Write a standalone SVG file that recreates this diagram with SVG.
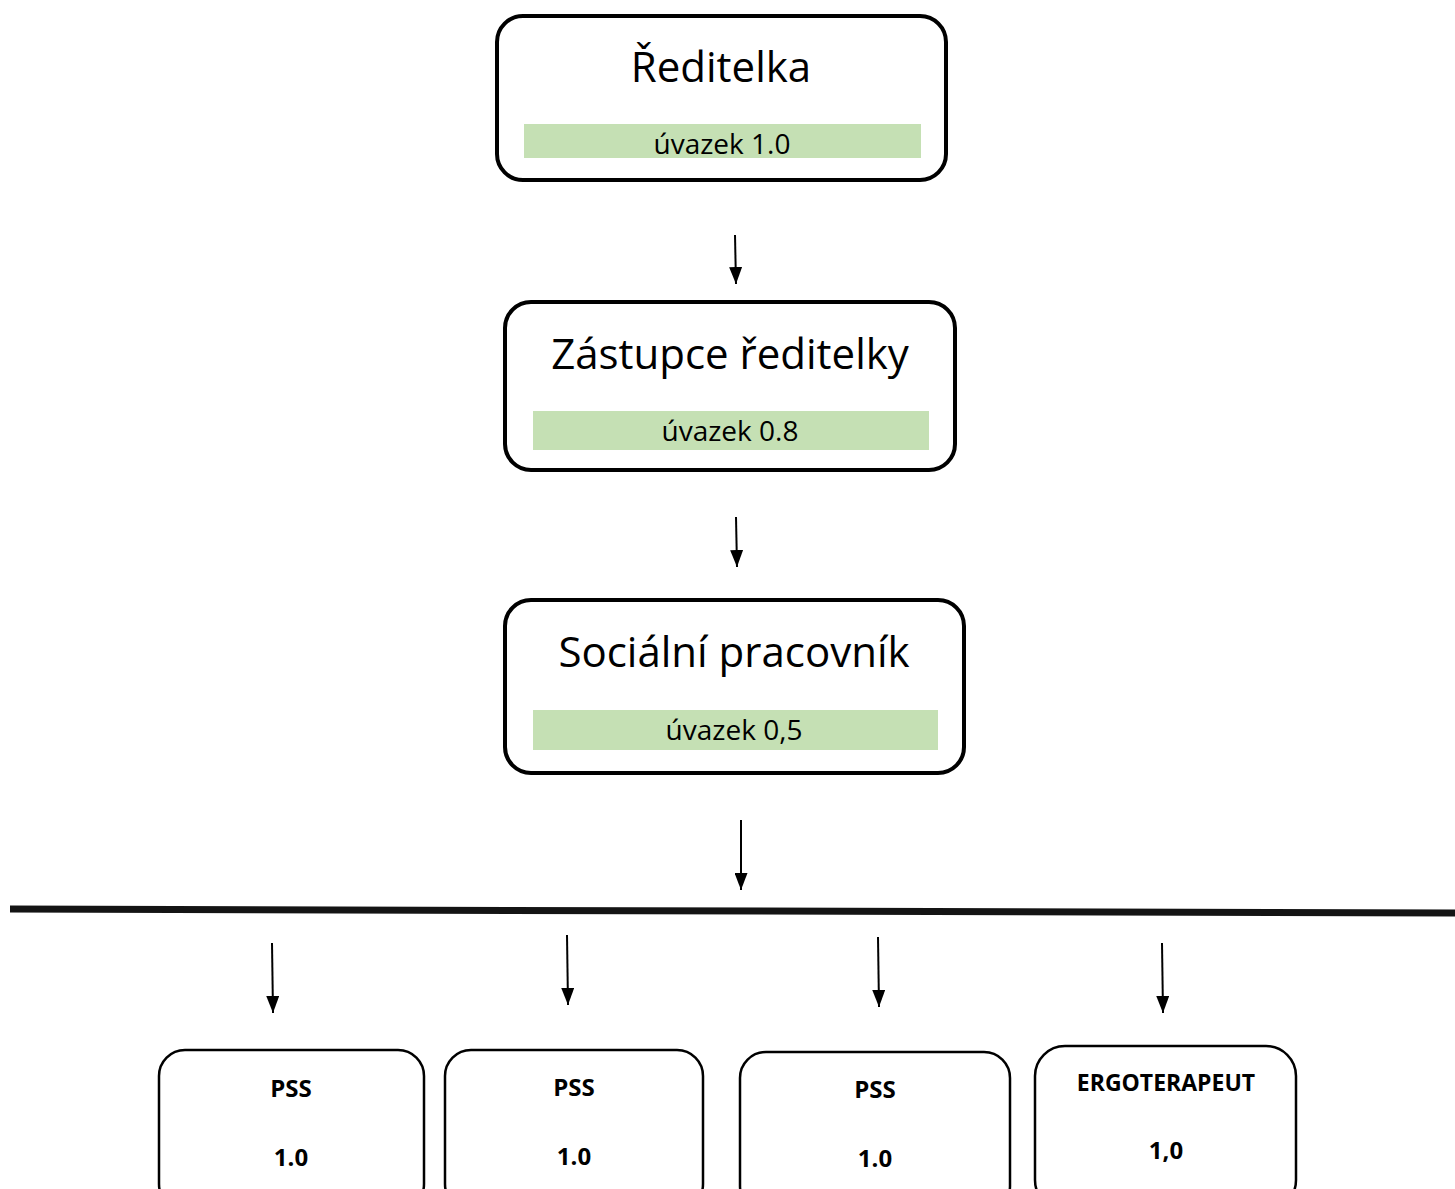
<svg xmlns="http://www.w3.org/2000/svg" width="1455" height="1189" viewBox="0 0 1455 1189">
<style>
.main{fill:#fff;stroke:#000;stroke-width:4}
.sub{fill:#fff;stroke:#000;stroke-width:2.5}
.bar{fill:#c5e0b4}
.title{font-family:"Open Sans","Noto Sans",sans-serif;font-size:42px;fill:#000;text-anchor:middle}
.uv{font-family:"Open Sans","Noto Sans",sans-serif;font-size:28px;fill:#000;text-anchor:middle}
.b{font-family:"Open Sans","Noto Sans",sans-serif;font-size:24px;font-weight:bold;fill:#000;text-anchor:middle}
.conn{stroke:#000;stroke-width:2;fill:none;marker-end:url(#ah)}
</style>
<defs>
<marker id="ah" markerUnits="userSpaceOnUse" markerWidth="17" markerHeight="13" refX="16" refY="5" orient="auto" viewBox="0 0 16 10" preserveAspectRatio="none">
<path d="M0,0 L16,5 L0,10 Z" fill="#000"/>
</marker>
</defs>
<rect width="1455" height="1189" fill="#fff"/>
<g id="reditelka">
<rect class="main" x="497" y="16" width="449" height="164" rx="26"/>
<rect class="bar" x="524" y="124" width="397" height="34"/>
<text class="title" x="721" y="82">Ředitelka</text>
<text class="uv" x="722" y="154">úvazek 1.0</text>
</g>
<g id="zastupce">
<rect class="main" x="505" y="302" width="450" height="168" rx="26"/>
<rect class="bar" x="533" y="411" width="396" height="39"/>
<text class="title" x="730" y="369">Zástupce ředitelky</text>
<text class="uv" x="730" y="441">úvazek 0.8</text>
</g>
<g id="socialni">
<rect class="main" x="505" y="600" width="459" height="173" rx="26"/>
<rect class="bar" x="533" y="710" width="405" height="40"/>
<text class="title" x="734" y="667">Sociální pracovník</text>
<text class="uv" x="734" y="740">úvazek 0,5</text>
</g>
<g id="pss1">
<rect class="sub" x="159" y="1050" width="265" height="160" rx="26"/>
<text class="b" x="291" y="1097">PSS</text>
<text class="b" x="291" y="1166">1.0</text>
</g>
<g id="pss2">
<rect class="sub" x="445" y="1050" width="258" height="160" rx="26"/>
<text class="b" x="574" y="1096">PSS</text>
<text class="b" x="574" y="1165">1.0</text>
</g>
<g id="pss3">
<rect class="sub" x="740" y="1052" width="270" height="160" rx="26"/>
<text class="b" x="875" y="1098">PSS</text>
<text class="b" x="875" y="1167">1.0</text>
</g>
<g id="ergoterapeut">
<rect class="sub" x="1035" y="1046" width="261" height="164" rx="30"/>
<text class="b" x="1166" y="1091" style="font-size:23px">ERGOTERAPEUT</text>
<text class="b" x="1166" y="1159">1,0</text>
</g>
<g id="connectors">
<line class="conn" x1="735" y1="235" x2="736" y2="284"/>
<line class="conn" x1="736" y1="517" x2="737" y2="567"/>
<line class="conn" x1="741" y1="820" x2="741" y2="890"/>
<path d="M10,909 L1455,913" stroke="#141414" stroke-width="7" fill="none"/>
<line class="conn" x1="272" y1="943" x2="273" y2="1013"/>
<line class="conn" x1="567" y1="935" x2="568" y2="1005"/>
<line class="conn" x1="878" y1="937" x2="879" y2="1007"/>
<line class="conn" x1="1162" y1="943" x2="1163" y2="1013"/>
</g>
</svg>
